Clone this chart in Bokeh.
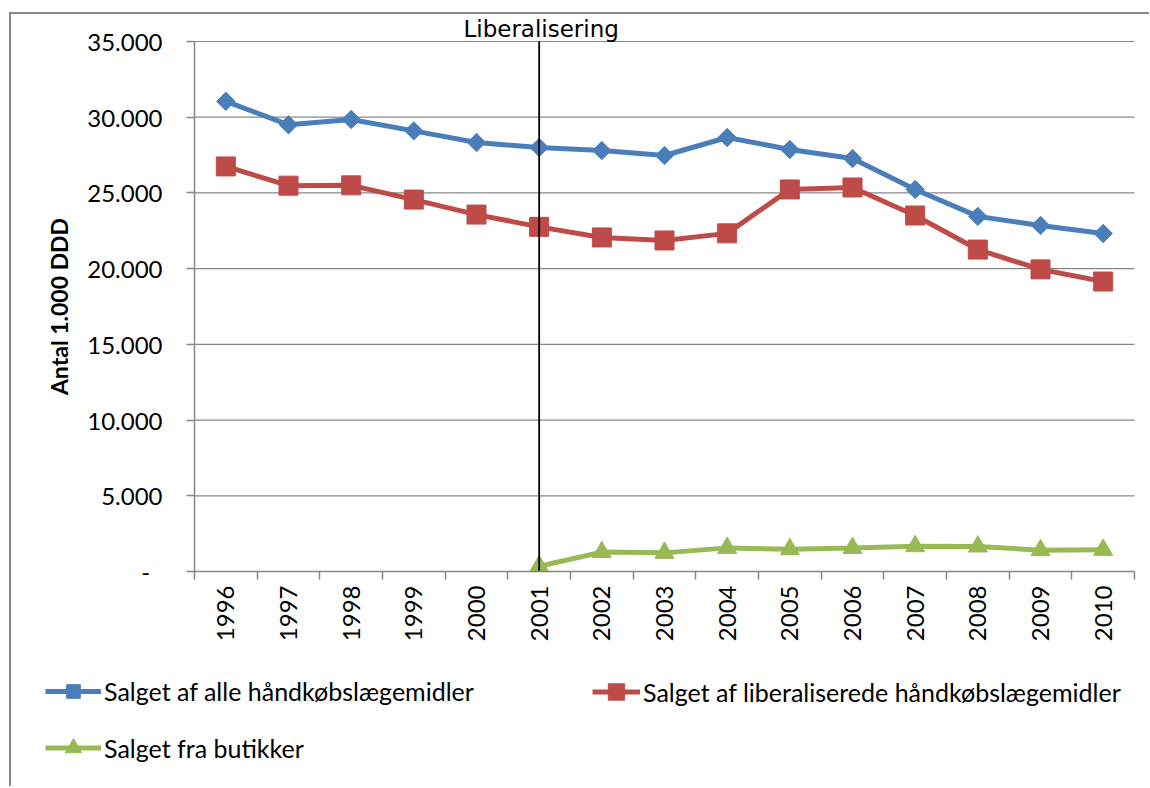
import math
from bokeh.plotting import figure
from bokeh.models import FixedTicker, Legend, LegendItem, Range1d, Label
from bokeh.embed import file_html
from bokeh.resources import INLINE

# ---- data ----
years = ["1996", "1997", "1998", "1999", "2000", "2001", "2002", "2003",
         "2004", "2005", "2006", "2007", "2008", "2009", "2010"]
all_otc = [31050, 29500, 29850, 29100, 28330, 28000, 27800, 27470,
           28660, 27870, 27270, 25230, 23450, 22850, 22320]
liberalised_otc = [26750, 25480, 25500, 24560, 23570, 22760, 22060, 21860,
                   22330, 25230, 25360, 23510, 21260, 19950, 19150]
shop_years = ["2001", "2002", "2003", "2004", "2005", "2006", "2007",
              "2008", "2009", "2010"]
shop_sales = [350, 1280, 1230, 1560, 1470, 1550, 1670, 1650, 1410, 1430]
y_ticks = [0, 5000, 10000, 15000, 20000, 25000, 30000, 35000]
event_year = "2001"
event_label = "Liberalisering"
series_names = ["Salget af alle håndkøbslægemidler",
                "Salget af liberaliserede håndkøbslægemidler",
                "Salget fra butikker"]
y_title = "Antal 1.000 DDD"

BLUE = "#4a7ebb"
RED = "#be4b48"
GREEN = "#98b954"
GRID = "#878787"
FONT = "Lato"

xi = {y: i for i, y in enumerate(years)}
n = len(years)

# ---- geometry (pixels inside the figure) ----
CW, CH = 1138, 772            # whole canvas = frame
PX0, PY0, PW, PH = 183, 27, 940, 530   # plotting area inside it
x_lo, x_hi = -0.5, n - 0.5
y_lo, y_hi = y_ticks[0], y_ticks[-1]
ux = (x_hi - x_lo) / PW
uy = (y_hi - y_lo) / PH
x_range = Range1d(x_lo - PX0 * ux, x_hi + (CW - PX0 - PW) * ux)
y_range = Range1d(y_lo - (CH - PY0 - PH) * uy, y_hi + PY0 * uy)

p = figure(frame_width=CW, frame_height=CH, min_border=0,
           min_border_left=0, min_border_right=0, min_border_top=0,
           min_border_bottom=0, x_range=x_range, y_range=y_range,
           output_backend="svg", toolbar_location=None)
p.title.visible = False
p.margin = (12, 0, 0, 9)
p.styles = {"border-left": "2px solid #8a8a8a", "border-top": "2px solid #8a8a8a"}
p.outline_line_color = None
p.background_fill_color = "white"
p.border_fill_color = "white"
p.grid.visible = False

# horizontal gridlines across the plotting area
grid_vals = y_ticks[1:]
p.segment(x0=[x_lo] * len(grid_vals), y0=grid_vals,
          x1=[x_hi] * len(grid_vals), y1=grid_vals,
          line_color=GRID, line_width=1.2)

# axes pinned to the plotting area
xa, ya = p.xaxis[0], p.yaxis[0]
xa.fixed_location = y_lo
xa.bounds = (x_lo, x_hi)
xa.ticker = FixedTicker(ticks=list(range(n)),
                        minor_ticks=[i - 0.5 for i in range(n + 1)])
xa.major_label_overrides = {i: y for i, y in enumerate(years)}
xa.major_label_orientation = math.pi / 2
xa.major_tick_out = 0
xa.major_tick_in = 0
xa.minor_tick_out = 8
xa.minor_tick_in = 0
xa.minor_tick_line_color = GRID
xa.minor_tick_line_width = 1.5
xa.major_label_standoff = 6

ya.fixed_location = x_lo
ya.bounds = (y_lo, y_hi)
ya.ticker = FixedTicker(ticks=y_ticks)
ya.major_label_overrides = {
    t: ("-\u00a0\u00a0" if t == 0 else f"{t:,}".replace(",", "."))
    for t in y_ticks}
ya.major_tick_out = 8
ya.major_tick_in = 0
ya.minor_tick_line_color = None
ya.major_tick_line_color = GRID
ya.major_tick_line_width = 1.5
ya.major_label_standoff = 24
ya.axis_label = y_title
ya.axis_label_text_font = FONT
ya.axis_label_text_font_style = "bold"
ya.axis_label_text_font_size = "23px"
ya.axis_label_text_color = "black"
ya.axis_label_standoff = 11

for ax in (xa, ya):
    ax.axis_line_color = GRID
    ax.axis_line_width = 1.5
    ax.major_label_text_font = FONT
    ax.major_label_text_font_size = "24px"
    ax.major_label_text_color = "black"

# series
x_all = [xi[y] for y in years]
x_shop = [xi[y] for y in shop_years]

STYLES = [
    dict(color=BLUE, marker="square", size=13, angle=math.pi / 4),
    dict(color=RED, marker="square", size=19, angle=0),
    dict(color=GREEN, marker="triangle", size=19, angle=0),
]
SERIES = [(x_all, all_otc), (x_all, liberalised_otc), (x_shop, shop_sales)]

renderers = []
for (xs, ys), st in zip(SERIES, STYLES):
    lr = p.line(xs, ys, line_color=st["color"], line_width=5)
    sr = p.scatter(xs, ys, marker=st["marker"], size=st["size"], angle=st["angle"],
                   fill_color=st["color"], line_color=st["color"])
    renderers.append([lr, sr])

# event line + label
p.segment(x0=[xi[event_year]], y0=[y_lo], x1=[xi[event_year]], y1=[y_hi],
          line_color="black", line_width=1.8)
p.add_layout(Label(x=xi[event_year], y=y_hi, x_offset=2, text=event_label,
                   text_align="center", text_baseline="bottom",
                   text_font="DejaVu Sans", text_font_size="23px",
                   text_color="black"))

# legend entries beneath the axis (one legend box per entry for exact placement)
# (screen offset from frame bottom-left, glyph box width, glyph box height)
LEG_POS = [(34, 78, 56, 34), (581, 74, 48, 41), (34, 18, 56, 41)]
for name, rs, (vx, vy, gw, gh) in zip(series_names, renderers, LEG_POS):
    lg = Legend(items=[LegendItem(label=name, renderers=rs)], location=(vx, vy))
    lg.padding = 0
    lg.margin = 0
    lg.spacing = 0
    lg.glyph_width = gw
    lg.glyph_height = gh
    lg.label_height = gh
    lg.label_standoff = 3
    lg.label_text_font = FONT
    lg.label_text_font_size = "25px"
    lg.label_text_color = "black"
    lg.border_line_color = None
    lg.background_fill_alpha = 0
    p.add_layout(lg, "center")

open("out.html", "w").write(file_html(p, INLINE))
